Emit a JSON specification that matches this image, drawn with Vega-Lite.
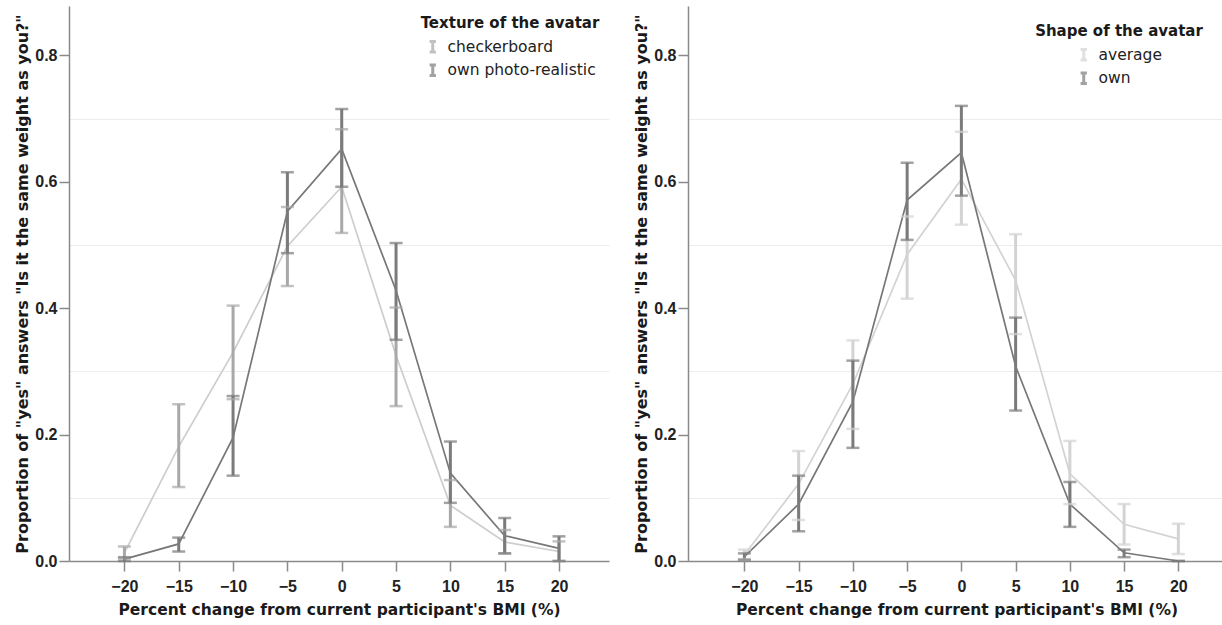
{
  "$schema": "https://vega.github.io/schema/vega-lite/v6.json",
  "padding": {"left": 14, "top": 6, "right": 0, "bottom": 0},
  "background": "white",
  "datasets": {
    "texture": [
      {"pct": -20, "group": "checkerboard", "mean": 0.013, "lo": 0.004, "hi": 0.023},
      {"pct": -15, "group": "checkerboard", "mean": 0.181, "lo": 0.117, "hi": 0.248},
      {"pct": -10, "group": "checkerboard", "mean": 0.33, "lo": 0.256, "hi": 0.404},
      {"pct": -5, "group": "checkerboard", "mean": 0.498, "lo": 0.435, "hi": 0.56},
      {"pct": 0, "group": "checkerboard", "mean": 0.592, "lo": 0.519, "hi": 0.683},
      {"pct": 5, "group": "checkerboard", "mean": 0.325, "lo": 0.245, "hi": 0.401},
      {"pct": 10, "group": "checkerboard", "mean": 0.088, "lo": 0.054, "hi": 0.128},
      {"pct": 15, "group": "checkerboard", "mean": 0.03, "lo": 0.012, "hi": 0.049},
      {"pct": 20, "group": "checkerboard", "mean": 0.015, "lo": 0.0, "hi": 0.031},
      {"pct": -20, "group": "own photo-realistic", "mean": 0.003, "lo": 0.0, "hi": 0.006},
      {"pct": -15, "group": "own photo-realistic", "mean": 0.027, "lo": 0.015, "hi": 0.037},
      {"pct": -10, "group": "own photo-realistic", "mean": 0.195, "lo": 0.135, "hi": 0.261},
      {"pct": -5, "group": "own photo-realistic", "mean": 0.553, "lo": 0.487, "hi": 0.615},
      {"pct": 0, "group": "own photo-realistic", "mean": 0.652, "lo": 0.592, "hi": 0.715},
      {"pct": 5, "group": "own photo-realistic", "mean": 0.428, "lo": 0.35, "hi": 0.503},
      {"pct": 10, "group": "own photo-realistic", "mean": 0.139, "lo": 0.092, "hi": 0.189},
      {"pct": 15, "group": "own photo-realistic", "mean": 0.04, "lo": 0.012, "hi": 0.068},
      {"pct": 20, "group": "own photo-realistic", "mean": 0.02, "lo": 0.0, "hi": 0.039}
    ],
    "shape": [
      {"pct": -20, "group": "average", "mean": 0.01, "lo": 0.003, "hi": 0.018},
      {"pct": -15, "group": "average", "mean": 0.122, "lo": 0.065, "hi": 0.174},
      {"pct": -10, "group": "average", "mean": 0.28, "lo": 0.209, "hi": 0.349},
      {"pct": -5, "group": "average", "mean": 0.485, "lo": 0.415, "hi": 0.545},
      {"pct": 0, "group": "average", "mean": 0.604, "lo": 0.532, "hi": 0.679},
      {"pct": 5, "group": "average", "mean": 0.444, "lo": 0.359, "hi": 0.517},
      {"pct": 10, "group": "average", "mean": 0.138, "lo": 0.09, "hi": 0.19},
      {"pct": 15, "group": "average", "mean": 0.058, "lo": 0.026, "hi": 0.09},
      {"pct": 20, "group": "average", "mean": 0.035, "lo": 0.011, "hi": 0.059},
      {"pct": -20, "group": "own", "mean": 0.007, "lo": 0.002, "hi": 0.012},
      {"pct": -15, "group": "own", "mean": 0.09, "lo": 0.047, "hi": 0.135},
      {"pct": -10, "group": "own", "mean": 0.252, "lo": 0.179, "hi": 0.317},
      {"pct": -5, "group": "own", "mean": 0.571, "lo": 0.508, "hi": 0.63},
      {"pct": 0, "group": "own", "mean": 0.646, "lo": 0.578, "hi": 0.72},
      {"pct": 5, "group": "own", "mean": 0.308, "lo": 0.238, "hi": 0.385},
      {"pct": 10, "group": "own", "mean": 0.09, "lo": 0.054, "hi": 0.125},
      {"pct": 15, "group": "own", "mean": 0.013, "lo": 0.006, "hi": 0.018},
      {"pct": 20, "group": "own", "mean": 0.0, "lo": 0.0, "hi": 0.0}
    ]
  },
  "config": {
    "view": {"stroke": null},
    "concat": {"spacing": 24},
    "axis": {
      "domainColor": "#8a8a8a",
      "domainWidth": 1.5,
      "tickColor": "#8a8a8a",
      "tickWidth": 1.5,
      "tickSize": 10,
      "labelFont": "Liberation Sans",
      "labelFontWeight": "bold",
      "labelFontSize": 16,
      "labelColor": "#222222",
      "titleFont": "DejaVu Sans",
      "titleFontWeight": "bold",
      "titleColor": "#1a1a1a",
      "gridColor": "#ededed",
      "gridWidth": 1
    },
    "legend": {
      "titleFont": "DejaVu Sans",
      "titleFontWeight": "bold",
      "titleFontSize": 15,
      "titleColor": "#1a1a1a",
      "titleLimit": 0,
      "labelFont": "DejaVu Sans",
      "labelFontSize": 15.5,
      "labelColor": "#222222",
      "labelLimit": 0,
      "padding": 0
    }
  },
  "resolve": {
    "scale": {"color": "independent", "stroke": "independent", "x": "independent", "y": "independent"},
    "legend": {"color": "independent", "stroke": "independent"}
  },
  "hconcat": [
    {
      "width": 540,
      "height": 555,
      "data": {"name": "texture"},
      "layer": [
        {
          "mark": {"type": "line", "strokeWidth": 1.7},
          "encoding": {
            "x": {"field": "pct", "type": "quantitative", "scale": {"domain": [-25.1, 24.6], "nice": false, "zero": false},
                  "axis": {"values": [-20, -15, -10, -5, 0, 5, 10, 15, 20], "grid": false, "labelPadding": 7, "title": "Percent change from current participant's BMI (%)", "titleFontSize": 15.5, "titlePadding": 8}},
            "y": {"field": "mean", "type": "quantitative", "scale": {"domain": [0, 0.878], "nice": false},
                  "axis": {"orient": "left", "values": [0.1, 0.3, 0.5, 0.7], "grid": true, "labels": false, "ticks": false, "domain": false, "title": null}},
            "stroke": {"field": "group", "type": "nominal", "scale": {"domain": ["own photo-realistic", "checkerboard"], "range": ["#777777", "#cdcdcd"]}, "legend": null},
            "order": {"field": "pct", "type": "quantitative"}
          }
        },
        {
          "mark": {"type": "rule", "strokeWidth": 3},
          "encoding": {
            "x": {"field": "pct", "type": "quantitative"},
            "y": {"field": "lo", "type": "quantitative",
                  "axis": {"orient": "left", "values": [0, 0.2, 0.4, 0.6, 0.8], "format": ".1f", "grid": false, "labelPadding": 2, "title": "Proportion of \"yes\" answers \"Is it the same weight as you?\"", "titleFontSize": 16, "titlePadding": 4}},
            "y2": {"field": "hi"},
            "color": {"field": "group", "type": "nominal", "title": "Texture of the avatar",
                      "scale": {"domain": ["checkerboard", "own photo-realistic"], "range": ["#a8a8a8", "#7b7b7b"]},
                      "legend": {"orient": "none", "legendX": 352, "legendY": 10, "titleAnchor": "middle", "titleAlign": "center", "titlePadding": 8, "rowPadding": 0.5, "labelOffset": 7, "symbolType": "M-0.6,-1H0.6M0,-1V1M-0.6,1H0.6", "symbolSize": 110, "symbolStrokeWidth": 3}}
          }
        },
        {
          "mark": {"type": "tick", "orient": "horizontal", "size": 13, "thickness": 2.5},
          "encoding": {
            "x": {"field": "pct", "type": "quantitative"},
            "y": {"field": "lo", "type": "quantitative", "axis": null},
            "color": {"field": "group", "type": "nominal"}
          }
        },
        {
          "mark": {"type": "tick", "orient": "horizontal", "size": 13, "thickness": 2.5},
          "encoding": {
            "x": {"field": "pct", "type": "quantitative"},
            "y": {"field": "hi", "type": "quantitative", "axis": null},
            "color": {"field": "group", "type": "nominal"}
          }
        }
      ],
      "resolve": {"axis": {"y": "independent"}}
    },
    {
      "width": 537,
      "height": 555,
      "data": {"name": "shape"},
      "layer": [
        {
          "mark": {"type": "line", "strokeWidth": 1.7},
          "encoding": {
            "x": {"field": "pct", "type": "quantitative", "scale": {"domain": [-25.2, 24.3], "nice": false, "zero": false},
                  "axis": {"values": [-20, -15, -10, -5, 0, 5, 10, 15, 20], "grid": false, "labelPadding": 7, "title": "Percent change from current participant's BMI (%)", "titleFontSize": 15.5, "titlePadding": 8}},
            "y": {"field": "mean", "type": "quantitative", "scale": {"domain": [0, 0.878], "nice": false},
                  "axis": {"orient": "left", "values": [0.1, 0.3, 0.5, 0.7], "grid": true, "labels": false, "ticks": false, "domain": false, "title": null}},
            "stroke": {"field": "group", "type": "nominal", "scale": {"domain": ["own", "average"], "range": ["#777777", "#d3d3d3"]}, "legend": null},
            "order": {"field": "pct", "type": "quantitative"}
          }
        },
        {
          "mark": {"type": "rule", "strokeWidth": 3},
          "encoding": {
            "x": {"field": "pct", "type": "quantitative"},
            "y": {"field": "lo", "type": "quantitative",
                  "axis": {"orient": "left", "values": [0, 0.2, 0.4, 0.6, 0.8], "format": ".1f", "grid": false, "labelPadding": 2, "title": "Proportion of \"yes\" answers \"Is it the same weight as you?\"", "titleFontSize": 16, "titlePadding": 4}},
            "y2": {"field": "hi"},
            "color": {"field": "group", "type": "nominal", "title": "Shape of the avatar",
                      "scale": {"domain": ["average", "own"], "range": ["#d3d3d3", "#7b7b7b"]},
                      "legend": {"orient": "none", "legendX": 347, "legendY": 18, "titleAnchor": "middle", "titleAlign": "center", "titlePadding": 8, "rowPadding": 0.5, "labelOffset": 7, "symbolType": "M-0.6,-1H0.6M0,-1V1M-0.6,1H0.6", "symbolSize": 110, "symbolStrokeWidth": 3}}
          }
        },
        {
          "mark": {"type": "tick", "orient": "horizontal", "size": 13, "thickness": 2.5},
          "encoding": {
            "x": {"field": "pct", "type": "quantitative"},
            "y": {"field": "lo", "type": "quantitative", "axis": null},
            "color": {"field": "group", "type": "nominal"}
          }
        },
        {
          "mark": {"type": "tick", "orient": "horizontal", "size": 13, "thickness": 2.5},
          "encoding": {
            "x": {"field": "pct", "type": "quantitative"},
            "y": {"field": "hi", "type": "quantitative", "axis": null},
            "color": {"field": "group", "type": "nominal"}
          }
        }
      ],
      "resolve": {"axis": {"y": "independent"}}
    }
  ]
}
